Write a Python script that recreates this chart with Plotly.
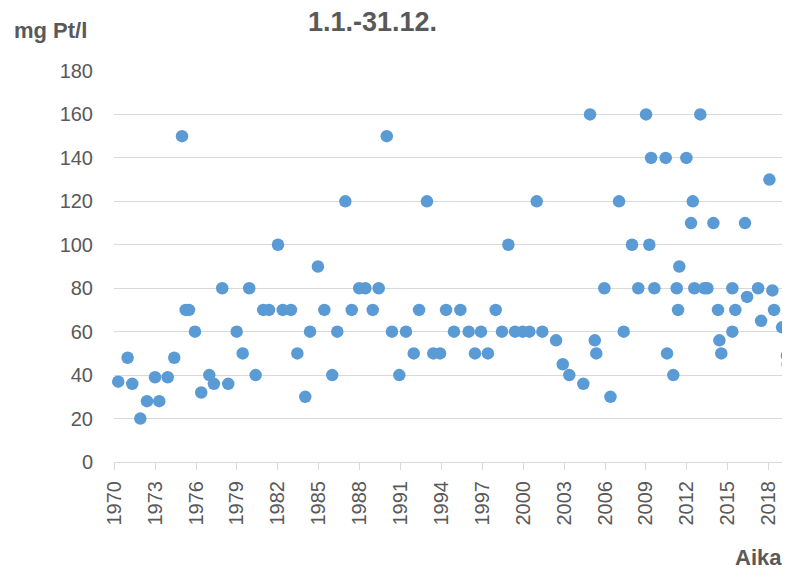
import plotly.graph_objects as go

# Sampling time (decimal year) and colour value (mg Pt/l)
sample_years = [
    1969.88, 1970.29, 1970.98, 1971.32, 1971.91, 1972.40, 1972.99, 1973.30, 1973.92, 1974.40,
    1974.97, 1975.24, 1975.48, 1975.92, 1976.38, 1976.97, 1977.31, 1977.92, 1978.36, 1978.98,
    1979.42, 1979.90, 1980.37, 1980.93, 1981.35, 1982.01, 1982.36, 1982.96, 1983.43, 1984.01,
    1984.36, 1984.94, 1985.41, 1985.99, 1986.36, 1986.95, 1987.42, 1987.97, 1988.42, 1988.96,
    1989.40, 1989.99, 1990.37, 1990.91, 1991.40, 1991.97, 1992.36, 1992.94, 1993.40, 1993.90,
    1994.34, 1994.92, 1995.39, 1996.00, 1996.46, 1996.90, 1997.41, 1997.98, 1998.44, 1998.91,
    1999.40, 1999.96, 2000.45, 2000.99, 2001.40, 2002.41, 2002.90, 2003.38, 2004.41, 2004.90,
    2005.25, 2005.36, 2005.95, 2006.40, 2007.03, 2007.37, 2007.98, 2008.44, 2009.01, 2009.25,
    2009.38, 2009.62, 2010.45, 2010.55, 2011.01, 2011.26, 2011.36, 2011.45, 2011.97, 2012.31,
    2012.44, 2012.55, 2012.99, 2013.29, 2013.51, 2013.95, 2014.29, 2014.39, 2014.53, 2015.34,
    2015.34, 2015.56, 2016.27, 2016.42, 2017.23, 2017.45, 2018.06, 2018.28, 2018.40, 2018.99,
    2019.35, 2019.40,
]
colour_values = [
    37, 37, 48, 36, 20, 28, 39, 28, 39, 48,
    150, 70, 70, 60, 32, 40, 36, 80, 36, 60,
    50, 80, 40, 70, 70, 100, 70, 70, 50, 30,
    60, 90, 70, 40, 60, 120, 70, 80, 80, 70,
    80, 150, 60, 40, 60, 50, 70, 120, 50, 50,
    70, 60, 70, 60, 50, 60, 50, 70, 60, 100,
    60, 60, 60, 120, 60, 56, 45, 40, 36, 160,
    56, 50, 80, 30, 120, 60, 100, 80, 160, 100,
    140, 80, 140, 50, 40, 80, 70, 90, 140, 110,
    120, 80, 160, 80, 80, 110, 70, 56, 50, 80,
    60, 70, 110, 76, 80, 65, 130, 79, 70, 62,
    49, 45,
]

x_tick_years = list(range(1970, 2019, 3))
x_tick_labels = [str(y) for y in x_tick_years]
y_tick_values = list(range(0, 181, 20))

title_text = "1.1.-31.12."
y_unit_text = "mg Pt/l"
x_title_text = "Aika"

GRID = "#d9d9d9"
TEXT = "#595959"
FONT = "Liberation Sans"

# page body has an 8px default margin; the figure is sized so that it fits the window
OFF = 8
PL, PT, PW, PH = 114 - OFF, 71 - OFF, 676, 391

fig = go.Figure()
fig.add_trace(go.Scatter(
    x=sample_years, y=colour_values, mode="markers",
    marker=dict(color="#5b9bd5", size=12.5, line=dict(width=0)),
    cliponaxis=False, showlegend=False,
))

fig.update_layout(
    width=790 - OFF, height=572 - OFF,
    margin=dict(l=PL, r=0, t=PT, b=572 - OFF - PT - PH, autoexpand=False),
    paper_bgcolor="white", plot_bgcolor="white",
    font=dict(family=FONT, color=TEXT, size=20),
    xaxis=dict(
        range=[1969.98, 2019.57], automargin=False,
        tickmode="array", tickvals=x_tick_years, ticktext=x_tick_labels,
        tickangle=-90, ticks="outside", ticklen=7, tickcolor=GRID, tickwidth=1,
        showgrid=False, zeroline=False,
        showline=True, linecolor=GRID, linewidth=1,
        tickfont=dict(family=FONT, size=20, color=TEXT),
        ticklabelstandoff=3,
    ),
    yaxis=dict(
        range=[0, 180], automargin=False,
        tickmode="array", tickvals=y_tick_values,
        showgrid=True, gridcolor=GRID, gridwidth=1,
        zeroline=False, showline=False, ticks="",
        tickfont=dict(family=FONT, size=20, color=TEXT),
        ticklabelstandoff=20,
    ),
    annotations=[
        dict(text="<b>%s</b>" % title_text, xref="paper", yref="paper",
             x=(372 - 114) / PW, y=1 + (71 - 22) / PH, xanchor="center", yanchor="middle",
             showarrow=False, font=dict(family=FONT, size=27, color=TEXT)),
        dict(text="<b>%s</b>" % y_unit_text, xref="paper", yref="paper",
             x=(12 - 114) / PW, y=1 + (71 - 30) / PH, xanchor="left", yanchor="middle",
             showarrow=False, font=dict(family=FONT, size=22, color=TEXT)),
        dict(text="<b>%s</b>" % x_title_text, xref="paper", yref="paper",
             x=(784 - 114) / PW, y=-(557 - 462) / PH, xanchor="right", yanchor="middle",
             showarrow=False, font=dict(family=FONT, size=22, color=TEXT)),
    ],
)

fig.write_html("out.html")
